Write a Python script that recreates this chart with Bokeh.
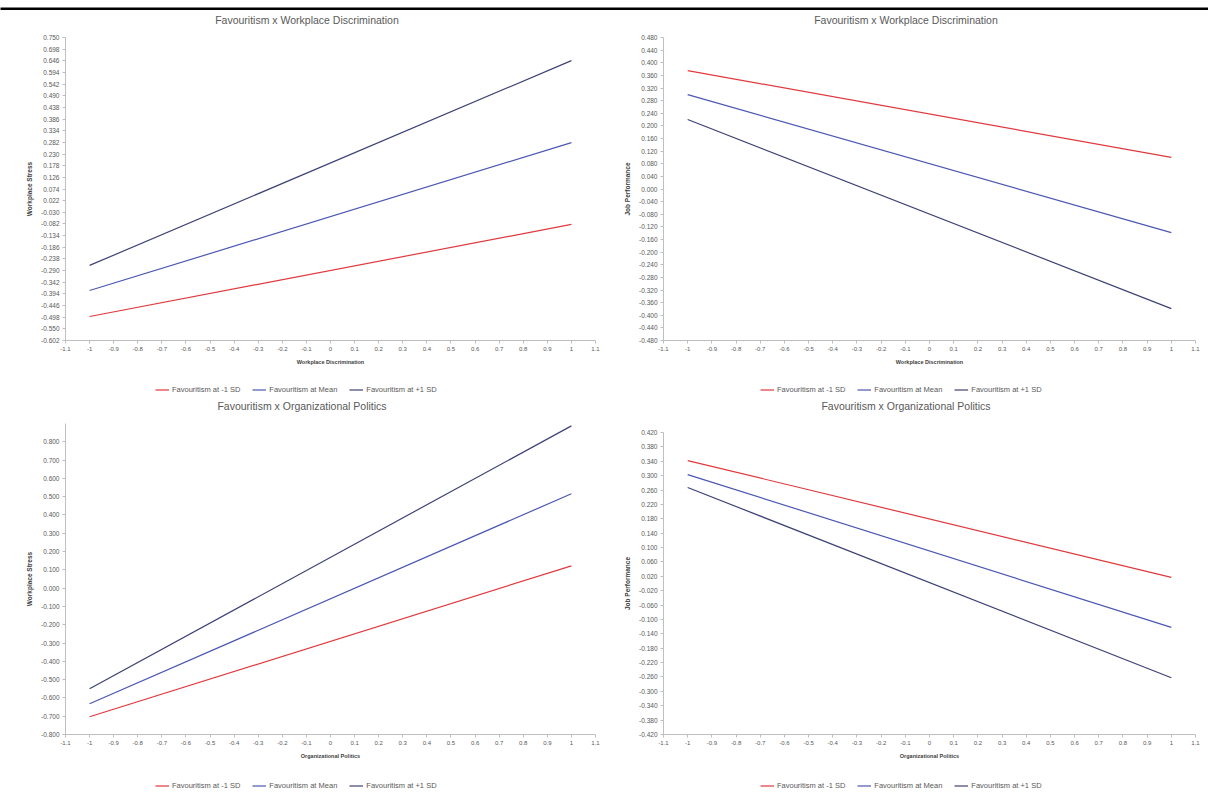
from bokeh.plotting import figure
from bokeh.models import FixedTicker, NumeralTickFormatter, Legend, LegendItem, Div, Range1d
from bokeh.layouts import column, row
from bokeh.embed import file_html
from bokeh.resources import INLINE

# ---------------- data ----------------
series_labels = ["Favouritism at -1 SD", "Favouritism at Mean", "Favouritism at +1 SD"]
x_vals = [-1, 1]
x_ticks = [-1.1, -1.0, -0.9, -0.8, -0.7, -0.6, -0.5, -0.4, -0.3, -0.2, -0.1, 0.0,
           0.1, 0.2, 0.3, 0.4, 0.5, 0.6, 0.7, 0.8, 0.9, 1.0, 1.1]

# Top-left: Favouritism x Workplace Discrimination -> Workplace Stress
tl_low = [-0.495, -0.084]
tl_mean = [-0.379, 0.281]
tl_high = [-0.267, 0.647]
tl_yticks = [-0.602, -0.55, -0.498, -0.446, -0.394, -0.342, -0.29, -0.238, -0.186,
             -0.134, -0.082, -0.03, 0.022, 0.074, 0.126, 0.178, 0.23, 0.282, 0.334,
             0.386, 0.438, 0.49, 0.542, 0.594, 0.646, 0.698, 0.75]

# Top-right: Favouritism x Workplace Discrimination -> Job Performance
tr_low = [0.375, 0.100]
tr_mean = [0.299, -0.138]
tr_high = [0.220, -0.379]
tr_yticks = [-0.48, -0.44, -0.40, -0.36, -0.32, -0.28, -0.24, -0.20, -0.16, -0.12, -0.08,
             -0.04, 0.0, 0.04, 0.08, 0.12, 0.16, 0.20, 0.24, 0.28, 0.32, 0.36, 0.40, 0.44, 0.48]

# Bottom-left: Favouritism x Organizational Politics -> Workplace Stress
bl_low = [-0.703, 0.122]
bl_mean = [-0.632, 0.516]
bl_high = [-0.550, 0.887]
bl_yticks = [-0.8, -0.7, -0.6, -0.5, -0.4, -0.3, -0.2, -0.1, 0.0, 0.1, 0.2, 0.3, 0.4,
             0.5, 0.6, 0.7, 0.8]

# Bottom-right: Favouritism x Organizational Politics -> Job Performance
br_low = [0.342, 0.017]
br_mean = [0.303, -0.122]
br_high = [0.267, -0.262]
br_yticks = [-0.42, -0.38, -0.34, -0.30, -0.26, -0.22, -0.18, -0.14, -0.10, -0.06, -0.02,
             0.02, 0.06, 0.10, 0.14, 0.18, 0.22, 0.26, 0.30, 0.34, 0.38, 0.42]

# ---------------- style ----------------
COLORS = ["#E0393E", "#4B57B2", "#3E4274"]
FONT = "Liberation Sans"
TEXT = "#595959"
AXIS = "#BFBFBF"
W = 604


def title_div(text, height, shift=0):
    return Div(text=('<div style="width:%dpx;height:%dpx;line-height:%dpx;text-align:center;'
                     'padding-left:%dpx;box-sizing:border-box;'
                     'font-family:\'Liberation Sans\';font-size:10.5px;color:#595959;'
                     'white-space:nowrap;">%s</div>') % (W, height, height, shift, text),
               width=W, height=height, margin=0)


def chart(xlabel, ylabel, yticks, yrange, lows, means, highs, height, left, right, top, bottom):
    p = figure(width=W, height=height, output_backend="svg", toolbar_location=None,
               x_range=Range1d(x_ticks[0], x_ticks[-1]), y_range=Range1d(*yrange),
               min_border_left=left, min_border_right=right,
               min_border_top=top, min_border_bottom=bottom)
    p.outline_line_color = None
    p.xgrid.visible = False
    p.ygrid.visible = False
    p.xaxis.ticker = FixedTicker(ticks=x_ticks)
    p.xaxis.formatter = NumeralTickFormatter(format="0.[0]")
    p.yaxis.ticker = FixedTicker(ticks=yticks)
    p.yaxis.formatter = NumeralTickFormatter(format="0.000")
    p.xaxis.axis_label = xlabel
    p.yaxis.axis_label = ylabel
    for ax in (p.xaxis, p.yaxis):
        ax.axis_line_color = AXIS
        ax.major_tick_line_color = AXIS
        ax.major_tick_out = 3
        ax.major_tick_in = 0
        ax.minor_tick_line_color = None
        ax.major_label_text_font = FONT
        ax.major_label_text_color = TEXT
        ax.major_label_standoff = 3
        ax.axis_label_text_font = FONT
        ax.axis_label_text_font_style = "bold"
        ax.axis_label_text_color = "#404040"
        ax.axis_label_standoff = 5
    p.xaxis.major_label_text_font_size = "6px"
    p.yaxis.major_label_text_font_size = "6.5px"
    p.xaxis.axis_label_text_font_size = "5.5px"
    p.yaxis.axis_label_text_font_size = "6.5px"
    p.line(x_vals, lows, line_color=COLORS[0], line_width=1.2)
    p.line(x_vals, means, line_color=COLORS[1], line_width=1.2)
    p.line(x_vals, highs, line_color=COLORS[2], line_width=1.2)
    return p


def legend_fig(height, lows, means, highs, leg_x):
    # the series are drawn outside this strip's visible range: only the legend shows
    p = figure(width=W, height=height, output_backend="svg", toolbar_location=None,
               x_axis_type=None, y_axis_type=None,
               x_range=Range1d(2, 3), y_range=Range1d(2, 3),
               min_border_left=0, min_border_right=0, min_border_top=0, min_border_bottom=0)
    p.outline_line_color = None
    p.xgrid.visible = False
    p.ygrid.visible = False
    rs = [p.line(x_vals, ys, line_color=c, line_width=1.2)
          for ys, c in zip((lows, means, highs), COLORS)]
    leg = Legend(items=[LegendItem(label=lab, renderers=[r]) for lab, r in zip(series_labels, rs)],
                 location=(leg_x, 4), orientation="horizontal")
    leg.label_text_font = FONT
    leg.label_text_font_size = "7.5px"
    leg.label_text_color = TEXT
    leg.label_height = 9
    leg.glyph_height = 9
    leg.glyph_width = 14
    leg.label_standoff = 3
    leg.spacing = 12
    leg.padding = 0
    leg.margin = 0
    leg.border_line_color = None
    leg.background_fill_alpha = 0
    p.add_layout(leg)
    return p


header = figure(width=1208, height=10, output_backend="svg", toolbar_location=None,
                x_axis_type=None, y_axis_type=None,
                min_border_left=0, min_border_right=0, min_border_top=5, min_border_bottom=0)
header.outline_line_color = None
header.xgrid.visible = False
header.ygrid.visible = False
header.background_fill_color = "black"

tl = column(title_div("Favouritism x Workplace Discrimination", 20, 10),
            chart("Workplace Discrimination", "Workplace Stress", tl_yticks,
                  (tl_yticks[0], tl_yticks[-1]), tl_low, tl_mean, tl_high, 350, 65, 9, 7, 40),
            legend_fig(18, tl_low, tl_mean, tl_high, 90), spacing=0)
tr = column(title_div("Favouritism x Workplace Discrimination", 20),
            chart("Workplace Discrimination", "Job Performance", tr_yticks,
                  (tr_yticks[0], tr_yticks[-1]), tr_low, tr_mean, tr_high, 350, 59, 13, 7, 40),
            legend_fig(18, tr_low, tr_mean, tr_high, 97), spacing=0)
bl = column(title_div("Favouritism x Organizational Politics", 14),
            chart("Organizational Politics", "Workplace Stress", bl_yticks,
                  (bl_yticks[0], 0.9), bl_low, bl_mean, bl_high, 364, 65, 9, 11, 42),
            legend_fig(18, bl_low, bl_mean, bl_high, 90), spacing=0)
br = column(title_div("Favouritism x Organizational Politics", 14),
            chart("Organizational Politics", "Job Performance", br_yticks,
                  (br_yticks[0], br_yticks[-1]), br_low, br_mean, br_high, 364, 59, 13, 20, 42),
            legend_fig(18, br_low, br_mean, br_high, 97), spacing=0)

layout = column(header, row(tl, tr, spacing=0), row(bl, br, spacing=0), spacing=0)

with open("out.html", "w") as f:
    f.write(file_html(layout, INLINE))
